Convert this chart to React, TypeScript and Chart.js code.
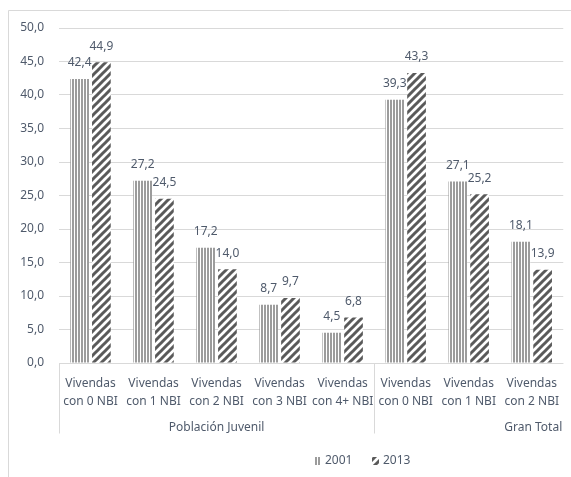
import React, { useEffect, useRef } from "react";
import { Chart, registerables } from "chart.js";

Chart.register(...registerables);

const categories: string[][] = [
  ["Vivendas", "con 0 NBI"],
  ["Vivendas", "con 1 NBI"],
  ["Vivendas", "con 2 NBI"],
  ["Vivendas", "con 3 NBI"],
  ["Vivendas", "con 4+ NBI"],
  ["Vivendas", "con 0 NBI"],
  ["Vivendas", "con 1 NBI"],
  ["Vivendas", "con 2 NBI"],
];
const groupNames = ["Población Juvenil", "Gran Total"];
const groupSizes = [5, 3];
const seriesNames = ["2001", "2013"];
const values2001 = [42.4, 27.2, 17.2, 8.7, 4.5, 39.3, 27.1, 18.1];
const values2013 = [44.9, 24.5, 14.0, 9.7, 6.8, 43.3, 25.2, 13.9];
const yMin = 0;
const yMax = 50;
const yStep = 5;

const FONT = "'Noto Sans', sans-serif";
const TEXT = "#4f5a6b";
const LINE = "#d9d9d9";

const fmt = (v: number) => v.toFixed(1).replace(".", ",");

function makeVertical(ctx: CanvasRenderingContext2D): CanvasPattern {
  const t = document.createElement("canvas");
  t.width = 3;
  t.height = 4;
  const c = t.getContext("2d")!;
  c.fillStyle = "#ffffff";
  c.fillRect(0, 0, 3, 4);
  c.fillStyle = "#9c9c9c";
  c.fillRect(0, 0, 2, 4);
  return ctx.createPattern(t, "repeat")!;
}

function makeDiagonal(ctx: CanvasRenderingContext2D): CanvasPattern {
  const s = 8;
  const t = document.createElement("canvas");
  t.width = s;
  t.height = s;
  const c = t.getContext("2d")!;
  c.fillStyle = "#ffffff";
  c.fillRect(0, 0, s, s);
  c.strokeStyle = "#5a5a5a";
  c.lineWidth = 3;
  c.beginPath();
  c.moveTo(-2, s + 2);
  c.lineTo(s + 2, -2);
  c.moveTo(-2, 2);
  c.lineTo(2, -2);
  c.moveTo(s - 2, s + 2);
  c.lineTo(s + 2, s - 2);
  c.stroke();
  return ctx.createPattern(t, "repeat")!;
}

export default function App() {
  const ref = useRef<HTMLCanvasElement | null>(null);

  useEffect(() => {
    const canvas = ref.current!;
    const ctx0 = canvas.getContext("2d")!;
    const pV = makeVertical(ctx0);
    const pD = makeDiagonal(ctx0);
    const patterns = [pV, pD];

    const decor = {
      id: "decor",
      beforeDraw(chart: any) {
        const ctx = chart.ctx;
        ctx.save();
        ctx.fillStyle = "#ffffff";
        ctx.fillRect(0, 0, chart.width, chart.height);
        ctx.strokeStyle = LINE;
        ctx.lineWidth = 1;
        ctx.beginPath();
        ctx.moveTo(8.5, chart.height);
        ctx.lineTo(8.5, 10.5);
        ctx.lineTo(chart.width, 10.5);
        ctx.stroke();
        ctx.restore();
      },
      afterDraw(chart: any) {
        const ctx = chart.ctx;
        const area = chart.chartArea;
        const ys = chart.scales.y;
        const n = categories.length;
        const cw = (area.right - area.left) / n;
        ctx.save();
        ctx.strokeStyle = LINE;
        ctx.lineWidth = 1;
        const y0 = Math.round(ys.getPixelForValue(0)) + 0.5;
        ctx.beginPath();
        ctx.moveTo(area.left, y0);
        ctx.lineTo(area.right, y0);
        let idx = 0;
        const seps = [0];
        groupSizes.forEach((g) => {
          idx += g;
          if (idx < n) seps.push(idx);
        });
        seps.forEach((i) => {
          const x = Math.round(area.left + i * cw) + 0.5;
          ctx.moveTo(x, y0);
          ctx.lineTo(x, y0 + 70);
        });
        ctx.stroke();

        ctx.fillStyle = TEXT;
        ctx.font = `12px ${FONT}`;
        ctx.textBaseline = "middle";
        let start = 0;
        groupSizes.forEach((g, gi) => {
          const end = start + g;
          if (end >= n) {
            ctx.textAlign = "right";
            ctx.fillText(groupNames[gi], area.right - 1, y0 + 64);
          } else {
            ctx.textAlign = "center";
            const cx = area.left + ((start + end) / 2) * cw;
            ctx.fillText(groupNames[gi], cx, y0 + 64);
          }
          start = end;
        });

        ctx.textAlign = "center";
        chart.data.datasets.forEach((ds: any, di: number) => {
          const meta = chart.getDatasetMeta(di);
          meta.data.forEach((bar: any, i: number) => {
            ctx.fillText(fmt(ds.data[i]), bar.x, bar.y - 16);
          });
        });

        const ly = 461;
        const items = [
          { x: 314, tx: 325 },
          { x: 372, tx: 383 },
        ];
        items.forEach((it, i) => {
          ctx.fillStyle = patterns[i];
          ctx.fillRect(it.x, ly - 4, 7, 8);
          ctx.fillStyle = TEXT;
          ctx.textAlign = "left";
          ctx.fillText(seriesNames[i], it.tx, ly);
        });
        ctx.restore();
      },
    };

    const chart = new Chart(canvas, {
      type: "bar",
      data: {
        labels: categories,
        datasets: [
          {
            label: seriesNames[0],
            data: values2001,
            backgroundColor: pV,
            borderWidth: 0,
            categoryPercentage: 0.69,
            barPercentage: 0.86,
          },
          {
            label: seriesNames[1],
            data: values2013,
            backgroundColor: pD,
            borderWidth: 0,
            categoryPercentage: 0.69,
            barPercentage: 0.86,
          },
        ],
      },
      options: {
        animation: false,
        responsive: false,
        devicePixelRatio: 1,
        layout: { padding: { left: 0, right: 0, top: 28, bottom: 0 } },
        plugins: {
          legend: { display: false },
          tooltip: { enabled: false },
        },
        scales: {
          x: {
            grid: { display: false, drawTicks: false },
            border: { display: false },
            ticks: {
              color: TEXT,
              font: { family: FONT, size: 12, lineHeight: 1.5 },
              padding: 12,
              autoSkip: false,
              maxRotation: 0,
              minRotation: 0,
            },
            afterFit: (s: any) => {
              s.height = 114;
            },
          },
          y: {
            min: yMin,
            max: yMax,
            grid: { color: LINE, drawTicks: false },
            border: { display: false },
            ticks: {
              stepSize: yStep,
              color: TEXT,
              padding: 15,
              font: { family: FONT, size: 12 },
              callback: (v: any) => fmt(Number(v)),
            },
            afterFit: (s: any) => {
              s.width = 59;
            },
          },
        },
      },
      plugins: [decor],
    });
    return () => chart.destroy();
  }, []);

  return (
    <div style={{ position: "absolute", left: 0, top: 0, width: 571, height: 477 }}>
      <canvas ref={ref} width={571} height={477} style={{ display: "block" }} />
    </div>
  );
}
